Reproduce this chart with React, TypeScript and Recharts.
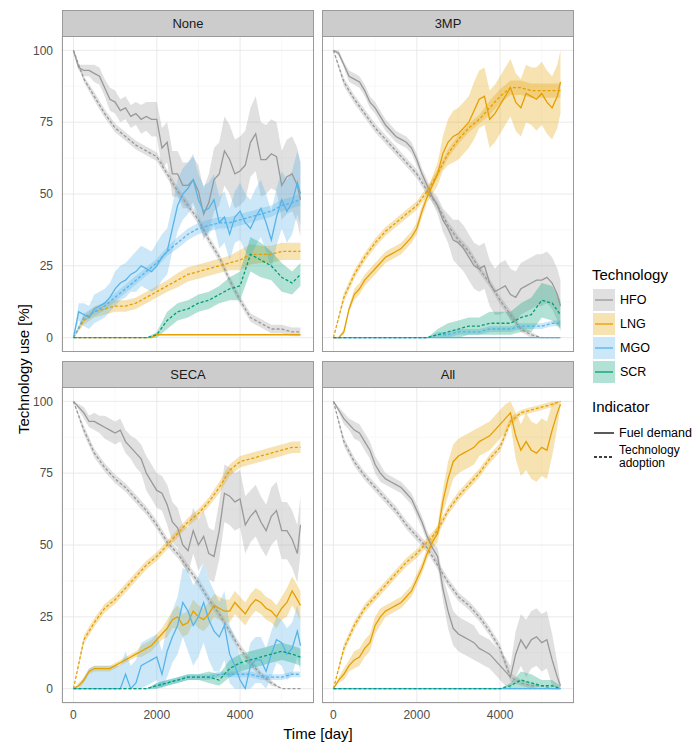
import { ComposedChart, Area, Line, XAxis, YAxis, CartesianGrid } from "recharts";

const FONT = '"Liberation Sans", Arial, Helvetica, sans-serif';

// fuel demand is sampled every 125 days, technology adoption every 250 days
const DAYS_FINE = [0, 125, 250, 375, 500, 625, 750, 875, 1000, 1125, 1250, 1375, 1500, 1625, 1750, 1875, 2000, 2125, 2250, 2375, 2500, 2625, 2750, 2875, 3000, 3125, 3250, 3375, 3500, 3625, 3750, 3875, 4000, 4125, 4250, 4375, 4500, 4625, 4750, 4875, 5000, 5125, 5250, 5375, 5450];
const DAYS = [0, 250, 500, 750, 1000, 1250, 1500, 1750, 2000, 2250, 2500, 2750, 3000, 3250, 3500, 3750, 4000, 4250, 4500, 4750, 5000, 5250, 5450];
const X_TICKS = [0, 2000, 4000];
const X_MINOR = [1000, 3000, 5000];
const Y_TICKS = [0, 25, 50, 75, 100];
const Y_MINOR = [12.5, 37.5, 62.5, 87.5];

const TECHS = ["HFO", "LNG", "MGO", "SCR"];
const TECH_COLORS: Record<string, string> = {
    HFO: "#999999",
    LNG: "#E69F00",
    MGO: "#56B4E9",
    SCR: "#009E73",
};

// --- None ---
const NONE_HFO_FUEL = [100, 94, 93, 93, 92, 91, 87, 83, 82, 79, 80, 77, 78, 76, 77, 76, 76, 66, 68, 57, 57, 53, 53, 55, 51, 43, 47, 55, 57, 65, 62, 57, 58, 60, 68, 71, 62, 62, 64, 63, 53, 56, 57, 53, 48];
const NONE_HFO_FUEL_SD = [1, 1, 2, 2, 3, 3, 3, 4, 4, 4, 4, 4, 4, 5, 5, 6, 6, 7, 7, 8, 8, 8, 8, 8, 9, 9, 10, 11, 11, 12, 12, 12, 12, 12, 12, 13, 13, 12, 12, 12, 12, 13, 13, 13, 13];
const NONE_LNG_FUEL = [0, 0, 0, 0, 0, 0, 0, 0, 0, 0, 0, 0, 0, 0, 0, 0, 1, 1, 1, 1, 1, 1, 1, 1, 1, 1, 1, 1, 1, 1, 1, 1, 1, 1, 1, 1, 1, 1, 1, 1, 1, 1, 1, 1, 1];
const NONE_LNG_FUEL_SD = [0, 0, 0, 0, 0, 0, 0, 0, 0, 0, 0, 0, 0, 0, 0, 0, 0, 0, 0, 0, 0, 0, 0, 0, 0, 0, 0, 0, 0, 0, 0, 0, 0, 0, 0, 0, 0, 0, 0, 0, 0, 0, 0, 0, 0];
const NONE_MGO_FUEL = [0, 9, 8, 7, 10, 11, 12, 14, 17, 19, 20, 22, 23, 25, 24, 23, 25, 28, 30, 38, 46, 50, 52, 55, 48, 44, 45, 48, 40, 42, 36, 42, 44, 40, 38, 42, 45, 40, 34, 42, 48, 44, 47, 54, 50];
const NONE_MGO_FUEL_SD = [0, 3, 4, 4, 5, 5, 5, 5, 6, 6, 6, 6, 7, 7, 7, 7, 8, 8, 8, 8, 9, 9, 9, 9, 9, 9, 9, 9, 9, 9, 9, 9, 10, 10, 10, 10, 10, 10, 10, 10, 10, 11, 11, 11, 11];
const NONE_HFO_ADOPT = [100, 90, 84, 78, 73, 70, 67, 65, 63, 57, 51, 46, 41, 34, 28, 20, 13, 7, 5, 3, 3, 2, 2];
const NONE_HFO_ADOPT_SD = [0, 1, 1.5, 1.5, 1.5, 1.5, 1.5, 1.5, 1.5, 1.5, 1.5, 1.5, 1.5, 1.5, 1.5, 1.5, 1.5, 1.5, 1.5, 1.5, 1.5, 1.5, 1.5];
const NONE_LNG_ADOPT = [0, 6, 9, 10, 11, 11, 12, 14, 16, 18, 20, 22, 23, 24, 25, 26, 27, 29, 29, 29, 30, 30, 30];
const NONE_LNG_ADOPT_SD = [0, 1.5, 2, 2, 2, 2, 2, 2, 2, 2, 2.5, 2.5, 2.5, 2.5, 2.5, 2.5, 3.5, 3.5, 3, 3, 3, 3, 3];
const NONE_MGO_ADOPT = [0, 7, 9, 11, 14, 17, 20, 23, 26, 30, 33, 36, 38, 39, 40, 40, 41, 42, 43, 44, 46, 47, 48];
const NONE_MGO_ADOPT_SD = [0, 1.5, 1.5, 1.5, 1.5, 1.5, 1.5, 1.5, 1.5, 1.5, 2, 2, 2, 2, 2, 2, 2, 2, 2, 2, 2, 2, 2];
const NONE_SCR_ADOPT = [0, 0, 0, 0, 0, 0, 0, 0, 1, 6, 9, 10, 12, 13, 15, 17, 18, 29, 27, 25, 21, 19, 22];
const NONE_SCR_ADOPT_SD = [0, 0, 0, 0, 0, 0, 0, 0, 1, 3, 3, 3, 3, 3, 3, 4, 5, 6, 6, 5, 5, 4, 4];

// --- 3MP ---
const MP_HFO_FUEL = [100, 99, 95, 91, 90, 89, 86, 82, 80, 77, 74, 72, 70, 69, 68, 66, 62, 57, 53, 49, 46, 41, 38, 34, 33, 31, 28, 25, 24, 25, 19, 16, 17, 18, 15, 14, 17, 18, 19, 20, 20, 21, 19, 15, 11];
const MP_HFO_FUEL_SD = [0, 1, 1, 2, 2, 2, 2, 2, 2, 2, 2, 2, 2, 2, 2, 2, 2, 2, 2, 2, 3, 4, 5, 7, 8, 8, 8, 8, 8, 8, 8, 8, 9, 9, 9, 9, 9, 9, 9, 9, 9, 9, 9, 9, 9];
const MP_LNG_FUEL = [0, 0, 2, 10, 15, 17, 20, 22, 24, 26, 28, 29, 30, 31, 33, 35, 38, 44, 49, 53, 57, 64, 68, 70, 71, 73, 75, 79, 83, 84, 76, 78, 81, 84, 87, 82, 80, 85, 84, 83, 85, 82, 80, 84, 89];
const MP_LNG_FUEL_SD = [0, 0, 1, 1, 2, 2, 2, 2, 2, 2, 2, 2, 2, 2, 2, 2, 2, 2, 2, 3, 4, 6, 8, 9, 9, 9, 9, 10, 10, 10, 10, 10, 10, 10, 10, 10, 10, 10, 10, 11, 11, 11, 11, 11, 11];
const MP_MGO_FUEL = [0, 0, 0, 0, 0, 0, 0, 0, 0, 0, 0, 0, 0, 0, 0, 0, 0, 0, 0, 0, 0, 0, 0, 0, 0, 0, 0, 0, 0, 0, 0, 0, 0, 0, 0, 0, 0, 0, 0, 0, 0, 0, 0, 0, 0];
const MP_MGO_FUEL_SD = [0, 0, 0, 0, 0, 0, 0, 0, 0, 0, 0, 0, 0, 0, 0, 0, 0, 0, 0, 0, 0, 0, 0, 0, 0, 0, 0, 0, 0, 0, 0, 0, 0, 0, 0, 0, 0, 0, 0, 0, 0, 0, 0, 0, 0];
const MP_HFO_ADOPT = [100, 89, 83, 78, 73, 69, 65, 61, 57, 51, 46, 39, 34, 30, 24, 19, 13, 8, 3, 1, 0, 0, 0];
const MP_HFO_ADOPT_SD = [0, 1.5, 1.5, 1.5, 1.5, 1.5, 1.5, 1.5, 1.5, 1.5, 1.5, 1.5, 1.5, 1.5, 1.5, 1.5, 1.5, 1.5, 1, 1, 0, 0, 0];
const MP_LNG_ADOPT = [0, 14, 22, 28, 33, 37, 40, 43, 46, 51, 57, 64, 69, 73, 76, 80, 84, 87, 87, 86, 86, 86, 86];
const MP_LNG_ADOPT_SD = [0, 1.5, 1.5, 1.5, 1.5, 1.5, 1.5, 1.5, 1.5, 1.5, 1.5, 1.5, 1.5, 1.5, 1.5, 2.5, 2.5, 2.5, 2.5, 2.5, 2.5, 2.5, 2.5];
const MP_MGO_ADOPT = [0, 0, 0, 0, 0, 0, 0, 0, 0, 0, 1, 1, 2, 2, 2, 3, 3, 3, 4, 4, 4, 5, 5];
const MP_MGO_ADOPT_SD = [0, 0, 0, 0, 0, 0, 0, 0, 0, 0, 1, 1, 1, 1, 1, 1, 1, 1, 1, 1, 1, 1, 1];
const MP_SCR_ADOPT = [0, 0, 0, 0, 0, 0, 0, 0, 0, 0, 1, 2, 3, 4, 4, 5, 5, 5, 7, 8, 13, 12, 8];
const MP_SCR_ADOPT_SD = [0, 0, 0, 0, 0, 0, 0, 0, 0, 0, 2, 3, 3, 3, 3, 4, 4, 4, 5, 6, 6, 6, 5];

// --- SECA ---
const SECA_HFO_FUEL = [100, 98, 96, 93, 93, 92, 91, 90, 89, 90, 86, 84, 82, 80, 75, 72, 69, 68, 64, 58, 56, 50, 48, 55, 50, 53, 47, 46, 55, 68, 67, 65, 66, 57, 60, 62, 58, 55, 60, 62, 55, 55, 52, 47, 57];
const SECA_HFO_FUEL_SD = [0, 1, 2, 2, 3, 3, 4, 4, 4, 4, 4, 4, 5, 5, 6, 6, 6, 6, 7, 7, 7, 7, 8, 8, 9, 9, 9, 9, 10, 10, 10, 10, 10, 10, 9, 9, 9, 9, 10, 10, 10, 10, 10, 10, 10];
const SECA_LNG_FUEL = [0, 1, 3, 6, 7, 7, 7, 7, 8, 9, 10, 11, 12, 13, 14, 15, 17, 19, 21, 24, 25, 22, 23, 27, 25, 24, 26, 29, 28, 27, 27, 30, 28, 26, 29, 31, 30, 28, 27, 25, 28, 30, 34, 31, 29];
const SECA_LNG_FUEL_SD = [0, 1, 1, 1, 1, 1, 1, 1, 1, 1, 1, 1, 1, 2, 2, 2, 2, 2, 3, 3, 4, 4, 4, 4, 4, 4, 4, 4, 4, 4, 4, 4, 4, 4, 4, 4, 4, 4, 4, 4, 4, 5, 5, 5, 5];
const SECA_MGO_FUEL = [0, 0, 0, 0, 0, 0, 0, 0, 0, 0, 5, 0, 2, 8, 9, 10, 11, 5, 13, 18, 22, 30, 27, 22, 25, 30, 24, 20, 18, 22, 12, 8, 3, 0, 8, 10, 10, 6, 12, 17, 16, 12, 14, 20, 15];
const SECA_MGO_FUEL_SD = [0, 0, 4, 7, 8, 8, 8, 8, 8, 8, 8, 8, 8, 8, 8, 8, 8, 8, 9, 9, 10, 12, 14, 14, 14, 14, 14, 14, 12, 12, 10, 10, 8, 8, 8, 8, 8, 8, 8, 8, 8, 9, 9, 9, 9];
const SECA_HFO_ADOPT = [100, 90, 82, 77, 73, 70, 66, 62, 57, 51, 47, 42, 37, 31, 26, 20, 14, 9, 5, 2, 0, 0, 0];
const SECA_HFO_ADOPT_SD = [0, 1.5, 1.5, 1.5, 1.5, 1.5, 1.5, 1.5, 1.5, 1.5, 1.5, 1.5, 1.5, 1.5, 1.5, 1.5, 1.5, 1.5, 1, 1, 0, 0, 0];
const SECA_LNG_ADOPT = [0, 17, 23, 28, 31, 35, 39, 43, 46, 50, 54, 58, 61, 65, 70, 76, 79, 80, 81, 82, 83, 84, 84];
const SECA_LNG_ADOPT_SD = [0, 1.5, 1.5, 1.5, 1.5, 1.5, 1.5, 1.5, 1.5, 1.5, 1.5, 1.5, 1.5, 1.5, 2, 2, 2, 2, 2, 2, 2, 2, 2];
const SECA_MGO_ADOPT = [0, 0, 0, 0, 0, 0, 0, 0, 1, 2, 3, 4, 4, 4, 5, 5, 5, 5, 4, 4, 4, 5, 5];
const SECA_MGO_ADOPT_SD = [0, 0, 0, 0, 0, 0, 0, 0, 1, 1, 1, 1, 1, 1, 1, 1, 1, 1, 1, 1, 1, 1, 1];
const SECA_SCR_ADOPT = [0, 0, 0, 0, 0, 0, 0, 0, 1, 2, 3, 4, 4, 4, 3, 7, 9, 10, 11, 12, 13, 12, 11];
const SECA_SCR_ADOPT_SD = [0, 0, 0, 0, 0, 0, 0, 0, 1, 1, 1, 1, 1, 2, 2, 3, 3, 3, 3, 3, 3, 3, 3];

// --- All ---
const ALL_HFO_FUEL = [100, 97, 94, 92, 90, 89, 86, 83, 78, 75, 73, 72, 71, 70, 68, 66, 62, 58, 53, 49, 46, 35, 27, 21, 19, 18, 17, 16, 14, 13, 12, 10, 8, 6, 4, 12, 17, 14, 17, 18, 16, 17, 10, 4, 1];
const ALL_HFO_FUEL_SD = [0, 1, 2, 2, 3, 3, 3, 3, 3, 3, 2, 2, 2, 2, 2, 2, 2, 2, 2, 2, 3, 4, 6, 6, 6, 6, 6, 6, 5, 5, 5, 5, 5, 5, 4, 8, 9, 10, 10, 10, 10, 10, 9, 5, 1];
const ALL_LNG_FUEL = [0, 3, 5, 8, 10, 11, 14, 16, 22, 25, 27, 28, 29, 30, 32, 34, 38, 42, 47, 51, 54, 65, 73, 79, 81, 82, 83, 84, 86, 87, 88, 90, 92, 94, 96, 88, 83, 86, 83, 82, 84, 83, 90, 96, 99];
const ALL_LNG_FUEL_SD = [0, 1, 2, 2, 3, 3, 3, 3, 3, 3, 2, 2, 2, 2, 2, 2, 2, 2, 2, 2, 3, 4, 6, 6, 6, 6, 6, 6, 5, 5, 5, 5, 5, 5, 4, 8, 9, 10, 10, 10, 10, 10, 9, 5, 1];
const ALL_MGO_FUEL = [0, 0, 0, 0, 0, 0, 0, 0, 0, 0, 0, 0, 0, 0, 0, 0, 0, 0, 0, 0, 0, 0, 0, 0, 0, 0, 0, 0, 0, 0, 0, 0, 0, 0, 0, 0, 0, 0, 0, 0, 0, 0, 0, 0, 0];
const ALL_MGO_FUEL_SD = [0, 0, 0, 0, 0, 0, 0, 0, 0, 0, 0, 0, 0, 0, 0, 0, 0, 0, 0, 0, 0, 0, 0, 0, 0, 0, 0, 0, 0, 0, 0, 0, 0, 0, 0, 0, 0, 0, 0, 0, 0, 0, 0, 0, 0];
const ALL_HFO_ADOPT = [100, 86, 79, 74, 70, 66, 62, 57, 53, 49, 43, 37, 32, 29, 25, 20, 14, 4, 2, 1, 1, 0, 0];
const ALL_HFO_ADOPT_SD = [0, 1.5, 1.5, 1.5, 1.5, 1.5, 1.5, 1.5, 1.5, 1.5, 1.5, 1.5, 1.5, 1.5, 1.5, 1.5, 1.5, 1.5, 1, 1, 0, 0, 0];
const ALL_LNG_ADOPT = [0, 14, 22, 28, 32, 36, 40, 44, 47, 51, 55, 62, 67, 71, 75, 80, 84, 93, 96, 97, 98, 99, 100];
const ALL_LNG_ADOPT_SD = [0, 1.5, 1.5, 1.5, 1.5, 1.5, 1.5, 1.5, 1.5, 1.5, 1.5, 1.5, 1.5, 1.5, 1.5, 1.5, 1.5, 1.5, 1, 1, 1, 1, 0];
const ALL_MGO_ADOPT = [0, 0, 0, 0, 0, 0, 0, 0, 0, 0, 0, 0, 0, 0, 0, 0, 0, 0, 0, 0, 0, 0, 0];
const ALL_MGO_ADOPT_SD = [0, 0, 0, 0, 0, 0, 0, 0, 0, 0, 0, 0, 0, 0, 0, 0, 0, 0, 0, 0, 0, 0, 0];
const ALL_SCR_ADOPT = [0, 0, 0, 0, 0, 0, 0, 0, 0, 0, 0, 0, 0, 0, 0, 0, 0, 1, 3, 2, 1, 1, 0];
const ALL_SCR_ADOPT_SD = [0, 0, 0, 0, 0, 0, 0, 0, 0, 0, 0, 0, 0, 0, 0, 0, 0, 1, 3, 3, 2, 2, 1];

type Series = { key: string; tech: string; adoption: boolean; mean: number[]; sd: number[] };

function panelSeries(
    hfoF: number[], hfoFs: number[], hfoA: number[], hfoAs: number[],
    lngF: number[], lngFs: number[], lngA: number[], lngAs: number[],
    mgoF: number[], mgoFs: number[], mgoA: number[], mgoAs: number[],
    scrA: number[], scrAs: number[]
): Series[] {
    return [
        { key: "hfoF", tech: "HFO", adoption: false, mean: hfoF, sd: hfoFs },
        { key: "hfoA", tech: "HFO", adoption: true, mean: hfoA, sd: hfoAs },
        { key: "lngF", tech: "LNG", adoption: false, mean: lngF, sd: lngFs },
        { key: "lngA", tech: "LNG", adoption: true, mean: lngA, sd: lngAs },
        { key: "mgoF", tech: "MGO", adoption: false, mean: mgoF, sd: mgoFs },
        { key: "mgoA", tech: "MGO", adoption: true, mean: mgoA, sd: mgoAs },
        { key: "scrA", tech: "SCR", adoption: true, mean: scrA, sd: scrAs },
    ];
}

const PANELS = [
    {
        title: "None", col: 0, row: 0,
        series: panelSeries(NONE_HFO_FUEL, NONE_HFO_FUEL_SD, NONE_HFO_ADOPT, NONE_HFO_ADOPT_SD,
            NONE_LNG_FUEL, NONE_LNG_FUEL_SD, NONE_LNG_ADOPT, NONE_LNG_ADOPT_SD,
            NONE_MGO_FUEL, NONE_MGO_FUEL_SD, NONE_MGO_ADOPT, NONE_MGO_ADOPT_SD,
            NONE_SCR_ADOPT, NONE_SCR_ADOPT_SD),
    },
    {
        title: "3MP", col: 1, row: 0,
        series: panelSeries(MP_HFO_FUEL, MP_HFO_FUEL_SD, MP_HFO_ADOPT, MP_HFO_ADOPT_SD,
            MP_LNG_FUEL, MP_LNG_FUEL_SD, MP_LNG_ADOPT, MP_LNG_ADOPT_SD,
            MP_MGO_FUEL, MP_MGO_FUEL_SD, MP_MGO_ADOPT, MP_MGO_ADOPT_SD,
            MP_SCR_ADOPT, MP_SCR_ADOPT_SD),
    },
    {
        title: "SECA", col: 0, row: 1,
        series: panelSeries(SECA_HFO_FUEL, SECA_HFO_FUEL_SD, SECA_HFO_ADOPT, SECA_HFO_ADOPT_SD,
            SECA_LNG_FUEL, SECA_LNG_FUEL_SD, SECA_LNG_ADOPT, SECA_LNG_ADOPT_SD,
            SECA_MGO_FUEL, SECA_MGO_FUEL_SD, SECA_MGO_ADOPT, SECA_MGO_ADOPT_SD,
            SECA_SCR_ADOPT, SECA_SCR_ADOPT_SD),
    },
    {
        title: "All", col: 1, row: 1,
        series: panelSeries(ALL_HFO_FUEL, ALL_HFO_FUEL_SD, ALL_HFO_ADOPT, ALL_HFO_ADOPT_SD,
            ALL_LNG_FUEL, ALL_LNG_FUEL_SD, ALL_LNG_ADOPT, ALL_LNG_ADOPT_SD,
            ALL_MGO_FUEL, ALL_MGO_FUEL_SD, ALL_MGO_ADOPT, ALL_MGO_ADOPT_SD,
            ALL_SCR_ADOPT, ALL_SCR_ADOPT_SD),
    },
];

// layout (page pixels)
const COL_X = [62, 322];
const ROW_Y = [36, 387];
const PLOT_W = 252;
const PLOT_H = 316;
const STRIP_H = 26;
const Y_AXIS_W = 30;
const X_AXIS_H = 24;

function buildRows(series: Series[]) {
    return DAYS_FINE.map((day, i) => {
        const row: Record<string, any> = { day };
        series.forEach((s) => {
            const j = s.adoption ? DAYS.indexOf(day) : i;
            if (j < 0) return;
            row[s.key] = s.mean[j];
            row[s.key + "_band"] = [
                Math.max(0, s.mean[j] - s.sd[j]),
                Math.min(100, s.mean[j] + s.sd[j]),
            ];
        });
        return row;
    });
}

function Panel({ panel }: { panel: (typeof PANELS)[number] }) {
    const showY = panel.col === 0;
    const showX = panel.row === 1;
    const px = COL_X[panel.col];
    const py = ROW_Y[panel.row];
    const yW = showY ? Y_AXIS_W : 0;
    const xH = showX ? X_AXIS_H : 0;
    const rows = buildRows(panel.series);
    const tickStyle = { fontSize: 12, fill: "#4d4d4d", fontFamily: FONT };

    return (
        <>
            <div style={{ position: "absolute", left: px - yW, top: py }}>
                <ComposedChart
                    width={PLOT_W + yW}
                    height={PLOT_H + xH}
                    data={rows}
                    margin={{ top: 0, right: 0, bottom: 0, left: 0 }}
                >
                    <XAxis xAxisId="minor" dataKey="day" type="number" domain={[-275, 5775]} ticks={X_MINOR} allowDataOverflow hide />
                    <YAxis yAxisId="minor" type="number" domain={[-5, 105]} ticks={Y_MINOR} allowDataOverflow hide />
                    <CartesianGrid xAxisId="minor" yAxisId="minor" stroke="#f4f4f4" strokeWidth={0.6} />
                    <CartesianGrid stroke="#e8e8e8" strokeWidth={0.9} />
                    <XAxis
                        dataKey="day"
                        type="number"
                        domain={[-275, 5775]}
                        ticks={X_TICKS}
                        allowDataOverflow
                        hide={!showX}
                        height={xH}
                        tick={tickStyle}
                        tickLine={false}
                        axisLine={false}
                        tickSize={3}
                        tickMargin={4}
                    />
                    <YAxis
                        type="number"
                        domain={[-5, 105]}
                        ticks={Y_TICKS}
                        allowDataOverflow
                        hide={!showY}
                        width={yW}
                        tick={tickStyle}
                        tickLine={false}
                        axisLine={false}
                        tickSize={3}
                        tickMargin={6}
                    />
                    {panel.series.map((s) => (
                        <Area
                            key={s.key + "_band"}
                            type="linear"
                            dataKey={s.key + "_band"}
                            stroke="none"
                            fill={TECH_COLORS[s.tech]}
                            fillOpacity={0.3}
                            connectNulls
                            isAnimationActive={false}
                            activeDot={false}
                        />
                    ))}
                    {panel.series.map((s) => (
                        <Line
                            key={s.key}
                            type="linear"
                            dataKey={s.key}
                            stroke={TECH_COLORS[s.tech]}
                            strokeWidth={1.3}
                            strokeDasharray={s.adoption ? "3 2" : undefined}
                            connectNulls
                            dot={false}
                            activeDot={false}
                            isAnimationActive={false}
                        />
                    ))}
                </ComposedChart>
            </div>
            <div
                style={{
                    position: "absolute",
                    left: px,
                    top: py,
                    width: PLOT_W,
                    height: PLOT_H,
                    border: "1px solid #9a9a9a",
                    boxSizing: "border-box",
                    pointerEvents: "none",
                }}
            />
            <div
                style={{
                    position: "absolute",
                    left: px,
                    top: py - STRIP_H,
                    width: PLOT_W,
                    height: STRIP_H + 1,
                    background: "#cccccc",
                    border: "1px solid #9a9a9a",
                    boxSizing: "border-box",
                    display: "flex",
                    alignItems: "center",
                    justifyContent: "center",
                    fontSize: 13,
                    color: "#1a1a1a",
                    fontFamily: FONT,
                }}
            >
                {panel.title}
            </div>
        </>
    );
}

function Legend() {
    return (
        <div style={{ position: "absolute", left: 0, top: 0, fontFamily: FONT, color: "#000" }}>
            <div style={{ position: "absolute", left: 592, top: 266, fontSize: 15, whiteSpace: "nowrap" }}>Technology</div>
            {TECHS.map((t, i) => (
                <div key={t}>
                    <svg style={{ position: "absolute", left: 593, top: 289 + i * 24 }} width={22} height={22}>
                        <rect x={0} y={0} width={22} height={22} fill={TECH_COLORS[t]} fillOpacity={0.3} />
                        <line x1={2} x2={20} y1={11} y2={11} stroke={TECH_COLORS[t]} strokeWidth={1.3} />
                    </svg>
                    <div style={{ position: "absolute", left: 620, top: 292 + i * 24, fontSize: 12.5, lineHeight: "16px" }}>{t}</div>
                </div>
            ))}
            <div style={{ position: "absolute", left: 592, top: 398, fontSize: 15, whiteSpace: "nowrap" }}>Indicator</div>
            <svg style={{ position: "absolute", left: 593, top: 425 }} width={22} height={44}>
                <line x1={1} x2={21} y1={8} y2={8} stroke="#000" strokeWidth={1.3} />
                <line x1={1} x2={21} y1={32} y2={32} stroke="#000" strokeWidth={1.3} strokeDasharray="3 2" />
            </svg>
            <div style={{ position: "absolute", left: 619, top: 425, fontSize: 12.5, lineHeight: "16px", whiteSpace: "nowrap" }}>Fuel demand</div>
            <div style={{ position: "absolute", left: 619, top: 444, fontSize: 12, lineHeight: "13px", whiteSpace: "nowrap" }}>
                Technology
                <br />
                adoption
            </div>
        </div>
    );
}

export default function App() {
    return (
        <div style={{ position: "absolute", left: 0, top: 0, width: 697, height: 743, background: "#fff", fontFamily: FONT }}>
            {PANELS.map((p) => (
                <Panel key={p.title} panel={p} />
            ))}
            <div
                style={{
                    position: "absolute",
                    left: 23,
                    top: 369,
                    transform: "translate(-50%, -50%) rotate(-90deg)",
                    fontSize: 15,
                    whiteSpace: "nowrap",
                }}
            >
                Technology use [%]
            </div>
            <div
                style={{
                    position: "absolute",
                    left: 318,
                    top: 733,
                    transform: "translate(-50%, -50%)",
                    fontSize: 15,
                    whiteSpace: "nowrap",
                }}
            >
                Time [day]
            </div>
            <Legend />
        </div>
    );
}
